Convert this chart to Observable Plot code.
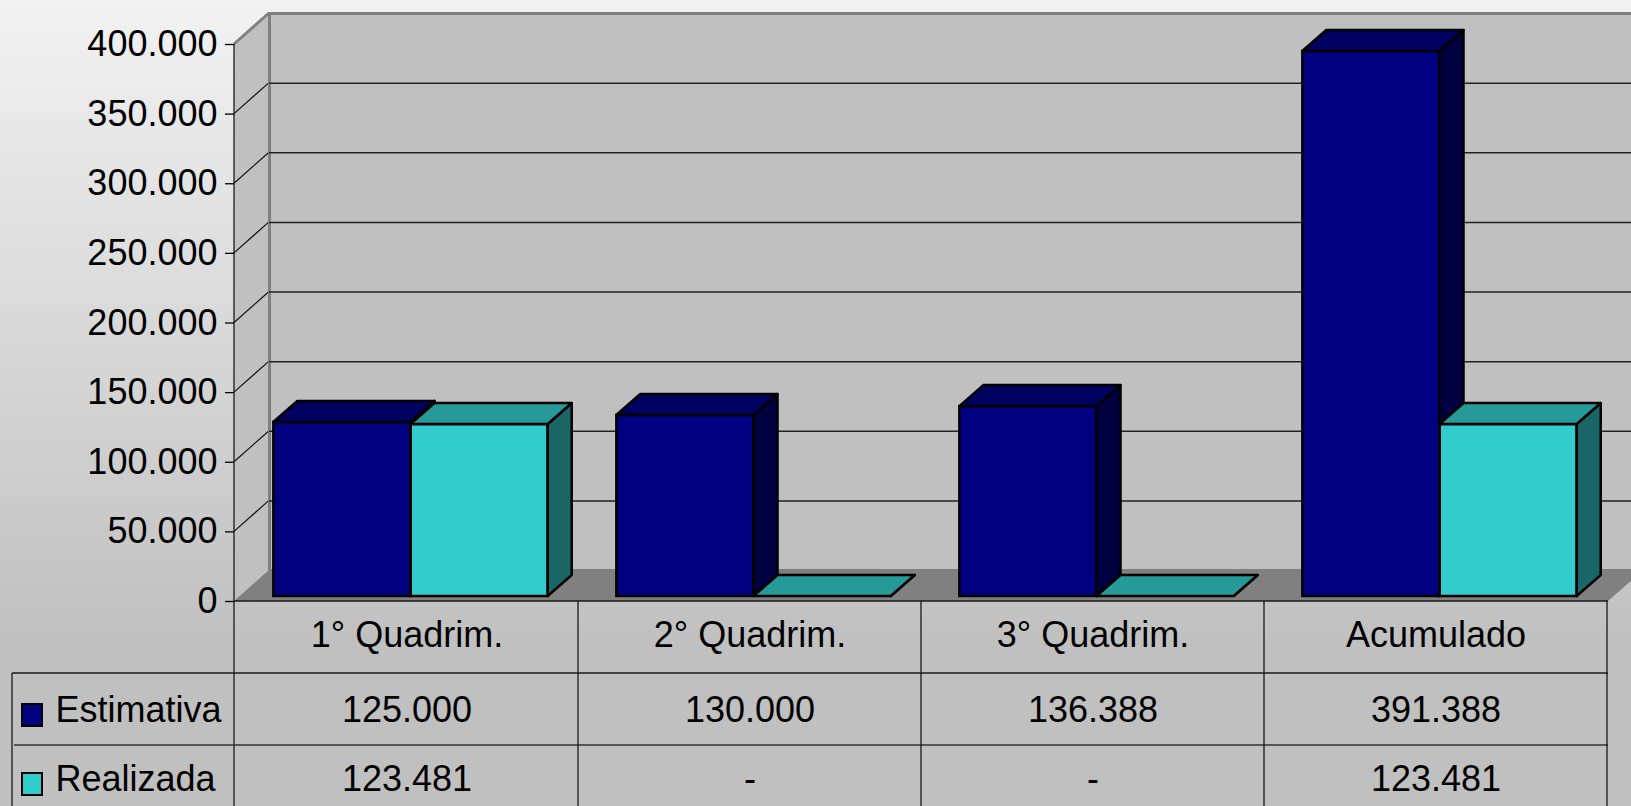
<!DOCTYPE html>
<html><head><meta charset="utf-8">
<script src="https://cdn.jsdelivr.net/npm/d3@7"></script>
<script src="https://cdn.jsdelivr.net/npm/@observablehq/plot@0.6"></script>
<style>
html,body{margin:0;padding:0;overflow:hidden;width:1631px;height:806px;}
body{background:linear-gradient(to bottom,#f2f2f2 0%,#c0c0c0 80%,#c0c0c0 100%);font-family:"Liberation Sans",Arial,sans-serif;}
#chart svg{display:block;}
</style></head><body><div id="chart"></div>
<script>
// ---- data ----
const categories = ["1° Quadrim.", "2° Quadrim.", "3° Quadrim.", "Acumulado"];
const seriesNames = ["Estimativa", "Realizada"];
const estimativa = [125000, 130000, 136388, 391388];
const realizada = [123481, null, null, 123481];
const yTicks = [0, 50000, 100000, 150000, 200000, 250000, 300000, 350000, 400000];

// ---- layout / style ----
const W = 1631, H = 806, ML = 234, MR = 23, MT = 44, MB = 205;
const WALL = {dx: 35, dy: -31};
const BAR = {dx: 4, dy: -5, depthX: 24, depthY: -21};
const ROW = 72;
const colors = {
  Estimativa: {front: "#000080", top: "#000060", side: "#000040"},
  Realizada: {front: "#33cccc", top: "#269999", side: "#1a6666"}
};
const slots = {Estimativa: [0.1, 0.5], Realizada: [0.5, 0.9]};
const bw = (W - ML - MR) / categories.length;

const loc = d3.formatLocale({decimal: ",", thousands: ".", grouping: [3], currency: ["", ""]});
const fmt = loc.format(",d");
const cell = v => v == null ? "-" : fmt(v);

const rows = {
  Estimativa: categories.map((c, i) => ({category: c, value: estimativa[i]})),
  Realizada: categories.map((c, i) => ({category: c, value: realizada[i]}))
};

// side wall + diagonals
const sideWall = (index, {x, y}) => {
  const g = d3.create("svg:g");
  const [xl] = x.range();
  const y0 = y(0), yT = y(yTicks[yTicks.length - 1]);
  g.append("path").attr("fill", "#c0c0c0")
    .attr("d", `M${xl},${y0}L${xl},${yT}L${xl + WALL.dx},${yT + WALL.dy}L${xl + WALL.dx},${y0 + WALL.dy}Z`);
  for (const t of yTicks.slice(1, -1)) {
    g.append("line").attr("stroke", "#111").attr("stroke-width", 1.2)
      .attr("x1", xl).attr("y1", y(t)).attr("x2", xl + WALL.dx).attr("y2", y(t) + WALL.dy);
  }
  return g.node();
};

// floor, top edge, axis line, table grid
const floorAndTable = (index, {x, y}) => {
  const g = d3.create("svg:g");
  const [xl, xr] = x.range();
  const y0 = y(0), yT = y(yTicks[yTicks.length - 1]);
  g.append("path").attr("fill", "#808080")
    .attr("d", `M${xl},${y0}L${xr},${y0}L${xr + WALL.dx},${y0 + WALL.dy}L${xl + WALL.dx},${y0 + WALL.dy}Z`);
  g.append("line").attr("stroke", "#808080").attr("stroke-width", 3)
    .attr("x1", xl).attr("y1", yT).attr("x2", xl + WALL.dx).attr("y2", yT + WALL.dy);
  const ln = (x1, y1, x2, y2, c = "#1a1a1a", w = 1.3) => g.append("line").attr("stroke", c).attr("stroke-width", w)
    .attr("x1", x1).attr("y1", y1).attr("x2", x2).attr("y2", y2);
  ln(xl, yT, xl, H);
  ln(xl, y0, xr, y0);
  ln(12, y0 + ROW, xr, y0 + ROW);
  ln(14, y0 + 2 * ROW, xr, y0 + 2 * ROW, "#333");
  ln(12, y0 + ROW, 12, H);
  for (const c of categories) ln(x(c) + x.bandwidth(), y0, x(c) + x.bandwidth(), H);
  // legend swatches
  seriesNames.forEach((s, i) => {
    g.append("rect").attr("x", 22).attr("y", y0 + 103 + i * 69).attr("width", 20).attr("height", 22)
      .attr("fill", colors[s].front).attr("stroke", "black").attr("stroke-width", 2);
  });
  return g.node();
};

const barFaces = (s) => (index, {x, y}) => {
  const g = d3.create("svg:g").attr("stroke", "black").attr("stroke-width", 2.5).attr("stroke-linejoin", "round");
  const [f0, f1] = slots[s];
  for (const r of rows[s]) {
    const x0 = x(r.category) + f0 * x.bandwidth() + BAR.dx;
    const x1 = x(r.category) + f1 * x.bandwidth() + BAR.dx;
    const yb = y(0) + BAR.dy, yt = y(r.value ?? 0) + BAR.dy;
    const ex = BAR.depthX, ey = BAR.depthY;
    g.append("path").attr("fill", colors[s].side)
      .attr("d", `M${x1},${yt}L${x1 + ex},${yt + ey}L${x1 + ex},${yb + ey}L${x1},${yb}Z`);
    g.append("path").attr("fill", colors[s].top)
      .attr("d", `M${x0},${yt}L${x0 + ex},${yt + ey}L${x1 + ex},${yt + ey}L${x1},${yt}Z`);
  }
  return g.node();
};

const barFront = (s) => Plot.barY(rows[s], {
  x: "category", y: d => d.value ?? 0,
  insetLeft: slots[s][0] * bw, insetRight: (1 - slots[s][1]) * bw,
  dx: BAR.dx, dy: BAR.dy,
  fill: colors[s].front, stroke: "black", strokeWidth: 2.5
});

const tableRows = [
  ...categories.map((c, i) => ({category: c, text: c, row: 0})),
  ...categories.map((c, i) => ({category: c, text: cell(estimativa[i]), row: 1})),
  ...categories.map((c, i) => ({category: c, text: cell(realizada[i]), row: 2}))
];
const rowDy = [34, 109, 178];

const chart = Plot.plot({
  width: W, height: H,
  marginLeft: ML, marginRight: MR, marginTop: MT, marginBottom: MB,
  style: {background: "transparent", color: "black", fontFamily: "'Liberation Sans', Arial, sans-serif", overflow: "visible"},
  x: {type: "band", domain: categories, padding: 0, axis: null},
  y: {domain: [0, 400000], axis: null},
  marks: [
    sideWall,
    Plot.frame({fill: "#c0c0c0", stroke: "#808080", strokeWidth: 3, dx: WALL.dx, dy: WALL.dy}),
    Plot.ruleY(yTicks.slice(1, -1), {stroke: "#222", strokeWidth: 1.5, dx: WALL.dx, dy: WALL.dy}),
    floorAndTable,
    Plot.axisY(yTicks, {tickFormat: fmt, tickSize: 9, tickPadding: 8, fontSize: 36, label: null, stroke: "black", strokeWidth: 1.3}),
    barFront("Estimativa"),
    barFaces("Estimativa"),
    barFront("Realizada"),
    barFaces("Realizada"),
    ...[0, 1, 2].map(r => Plot.text(tableRows.filter(d => d.row === r), {
      x: "category", text: "text", frameAnchor: "bottom", lineAnchor: "middle", dy: rowDy[r], fontSize: 36, fill: "black"
    })),
    ...seriesNames.map((s, i) => Plot.text([s], {
      frameAnchor: "bottom-left", lineAnchor: "middle", dx: 55 - ML, dy: rowDy[i + 1], text: d => d,
      textAnchor: "start", fontSize: 36, fill: "black"
    }))
  ]
});
document.getElementById("chart").appendChild(chart);
</script>
</body></html>
